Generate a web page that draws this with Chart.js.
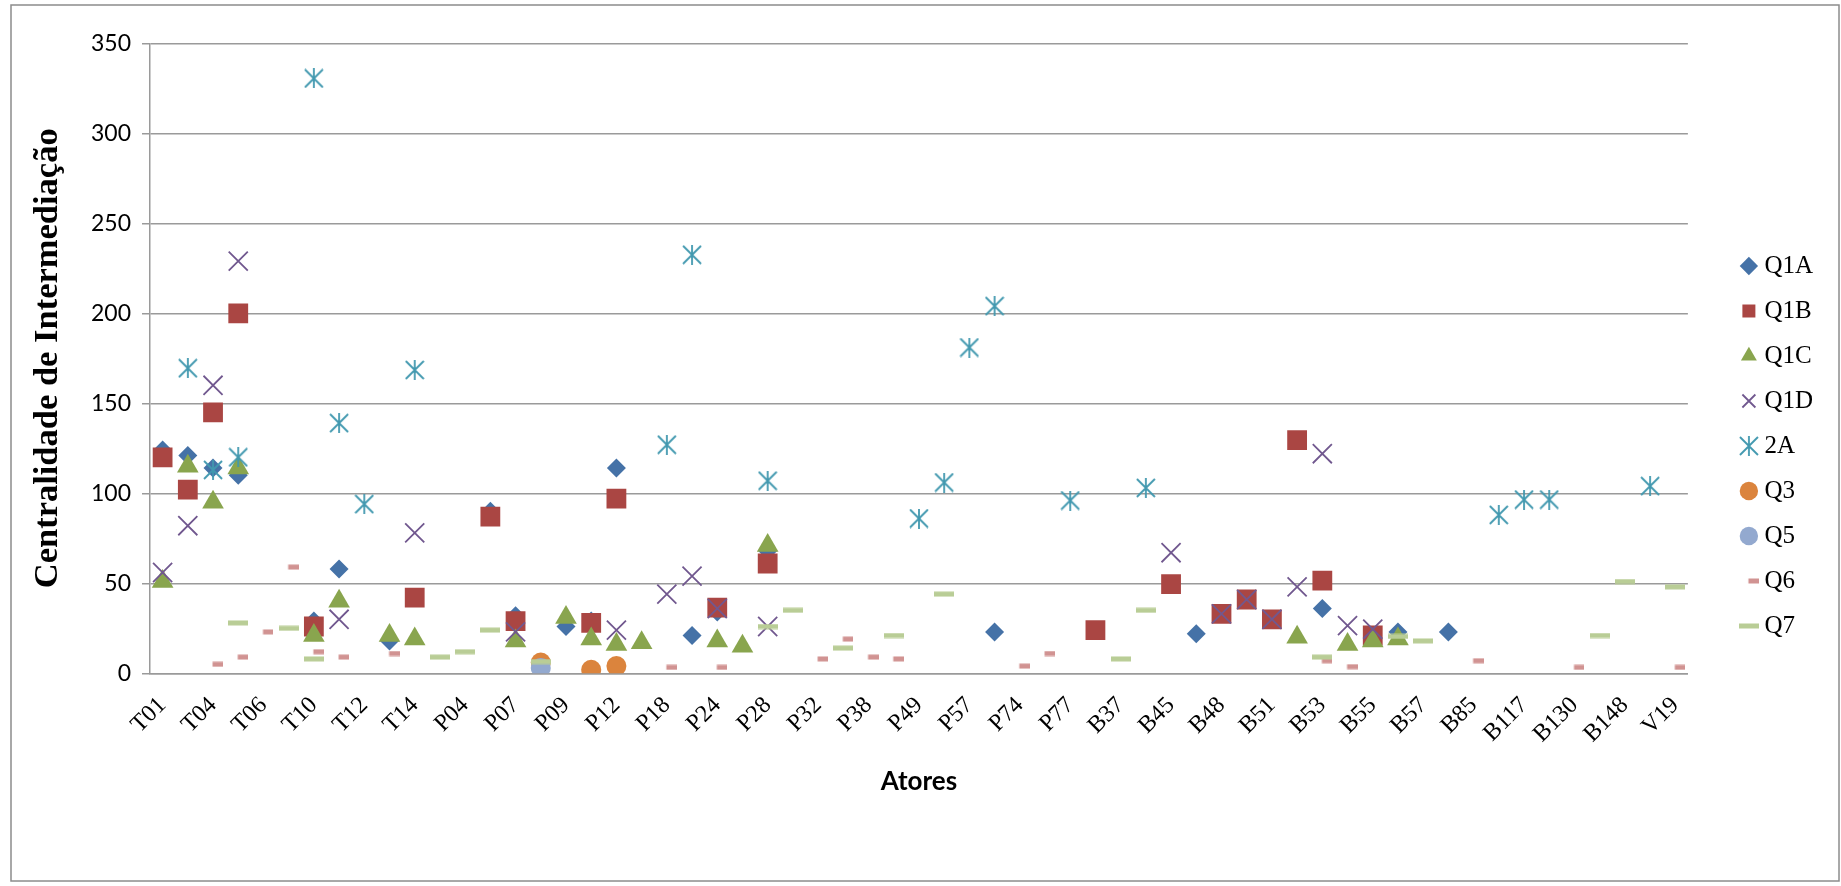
<!DOCTYPE html>
<html>
<head>
<meta charset="utf-8">
<title>Centralidade de Intermediação</title>
<script src="https://cdn.jsdelivr.net/npm/chart.js@4.4.1/dist/chart.umd.min.js"></script>
<style>
  html, body { margin: 0; padding: 0; background: #fff; }
  canvas { display: block; }
</style>
</head>
<body>
<canvas id="chart" width="1841" height="886"></canvas>
<script>
// actors on the x axis (only every other one is labelled in the original)
const actors = [
  "T01", "T03", "T04", "T05", "T06", "T08", "T10", "T11", "T12", "T13",
  "T14", "P02", "P04", "P06", "P07", "P08", "P09", "P11", "P12", "P15",
  "P18", "P21", "P24", "P26", "P28", "P30", "P32", "P35", "P38", "P42",
  "P49", "P53", "P57", "P65", "P74", "P75", "P77", "B30", "B37", "B40",
  "B45", "B47", "B48", "B50", "B51", "B52", "B53", "B54", "B55", "B56",
  "B57", "B70", "B85", "B100", "B117", "B120", "B130", "B140", "B148", "B150",
  "V19"
];

const q1a = [
  124, 121, 114, 110, null, null, 29, 58, null, 18,
  null, null, null, 90, 32, null, 26, 29, 114, null,
  null, 21, 34, null, 68, null, null, null, null, null,
  null, null, null, 23, null, null, null, null, null, null,
  null, 22, null, null, null, null, 36, null, null, 23,
  null, 23, null, null, null, null, null, null, null, null,
  null
];
const q1b = [
  120, 102, 145, 200, null, null, 26, null, null, null,
  42, null, null, 87, 29, null, null, 28, 97, null,
  null, null, 36.5, null, 61, null, null, null, null, null,
  null, null, null, null, null, null, null, 24, null, null,
  49.5, null, 33, 41, 30, 129.5, 51.5, null, 21, null,
  null, null, null, null, null, null, null, null, null, null,
  null
];
const q1c = [
  51, 115, 95, 114, null, null, 21, 40, null, 21,
  19, null, null, null, 18, null, 31, 19, 16, 17,
  null, null, 18, 15, 71, null, null, null, null, null,
  null, null, null, null, null, null, null, null, null, null,
  null, null, null, null, null, 20, null, 16, 18, 19,
  null, null, null, null, null, null, null, null, null, null,
  null
];
const q1d = [
  56, 82, 160, 229, null, null, null, 30, null, null,
  78, null, null, null, 23, null, null, null, 24, null,
  44, 54, 36, null, 26, null, null, null, null, null,
  null, null, null, null, null, null, null, null, null, null,
  67, null, 33, 41, 30, 48, 122, 26.5, 24.5, null,
  null, null, null, null, null, null, null, null, null, null,
  null
];
const q2a = [
  null, 169.5, 113, 120, null, null, 330.5, 139, 94, null,
  168.5, null, null, null, null, null, null, null, null, null,
  127, 232.5, null, null, 107, null, null, null, null, null,
  86, 106, 181, 204, null, null, 96, null, null, 103,
  null, null, null, null, null, null, null, null, null, null,
  null, null, null, 88, 96.5, 96.5, null, null, null, 104,
  null
];
const q3 = [
  null, null, null, null, null, null, null, null, null, null,
  null, null, null, null, null, 6, null, 2, 4, null,
  null, null, null, null, null, null, null, null, null, null,
  null, null, null, null, null, null, null, null, null, null,
  null, null, null, null, null, null, null, null, null, null,
  null, null, null, null, null, null, null, null, null, null,
  null
];
const q5 = [
  null, null, null, null, null, null, null, null, null, null,
  null, null, null, null, null, 3, null, null, null, null,
  null, null, null, null, null, null, null, null, null, null,
  null, null, null, null, null, null, null, null, null, null,
  null, null, null, null, null, null, null, null, null, null,
  null, null, null, null, null, null, null, null, null, null,
  null
];
const q6 = [
  null, null, 5, 9, 23, 59, 12, 9, null, 11,
  null, null, null, null, null, null, null, null, null, null,
  3.3, null, 3.3, null, null, null, 8, 19, 9, 8,
  null, null, null, null, 4, 11, null, null, null, null,
  null, null, null, null, null, null, 7, 3.7, null, null,
  null, null, 7, null, null, null, 3.3, null, null, null,
  3.3
];
const q7 = [
  null, null, null, 28, null, 25, 8, null, null, null,
  null, 9, 12, 24, null, 6.5, null, null, null, null,
  null, null, null, null, 26, 35, null, 14, null, 21,
  null, 44, null, null, null, null, null, null, 8, 35,
  null, null, null, null, null, null, 9, null, null, 20.5,
  18, null, null, null, null, null, null, 21, 51, null,
  48
];

const yTicks = [0, 50, 100, 150, 200, 250, 300, 350];

document.addEventListener("DOMContentLoaded", function () {
  const gridColor = "#9a9a9a";

  // small canvases for the Excel style markers chart.js has no shape for
  function makeMarker(w, h, draw) {
    const c = document.createElement("canvas");
    c.width = w;
    c.height = h;
    draw(c.getContext("2d"));
    return c;
  }
  const asterisk = makeMarker(20, 20, g => {
    g.strokeStyle = "#4198AF";
    g.lineWidth = 1.8;
    g.beginPath();
    g.moveTo(1, 1); g.lineTo(19, 19);
    g.moveTo(19, 1); g.lineTo(1, 19);
    g.moveTo(10, 0); g.lineTo(10, 20);
    g.stroke();
  });
  const shortDash = makeMarker(20, 6, g => {
    g.fillStyle = "#D19392";
    g.fillRect(9.5, 0.5, 10.5, 5);
  });
  const longDash = makeMarker(20, 6, g => {
    g.fillStyle = "#B9CD96";
    g.fillRect(0, 0.5, 20, 5);
  });

  const series = [
    { label: "Q1A", data: q1a, pointStyle: "rectRot", pointRadius: 9.5, color: "#4572A7" },
    { label: "Q1B", data: q1b, pointStyle: "rect", pointRadius: 14, color: "#AA4643" },
    { label: "Q1C", data: q1c, pointStyle: "triangle", pointRadius: 12.5, color: "#89A54E" },
    { label: "Q1D", data: q1d, pointStyle: "crossRot", pointRadius: 13.5, color: "#71588F", line: 1.8 },
    { label: "2A", data: q2a, pointStyle: asterisk, pointRadius: 10, color: "#4198AF" },
    { label: "Q3", data: q3, pointStyle: "circle", pointRadius: 10, color: "#DB843D" },
    { label: "Q5", data: q5, pointStyle: "circle", pointRadius: 10, color: "#93A9CF" },
    { label: "Q6", data: q6, pointStyle: shortDash, pointRadius: 6, color: "#D19392" },
    { label: "Q7", data: q7, pointStyle: longDash, pointRadius: 10, color: "#B9CD96" }
  ];

  const datasets = series.map((s, i) => ({
    label: s.label,
    data: s.data,
    showLine: false,
    xAxisID: "x",
    yAxisID: "y",
    order: series.length - i, // later series on top, as in Excel
    pointStyle: s.pointStyle,
    pointRadius: s.pointRadius,
    pointHoverRadius: s.pointRadius,
    pointBackgroundColor: s.color,
    pointBorderColor: s.color,
    pointBorderWidth: s.line || 0,
    backgroundColor: s.color,
    borderColor: s.color
  }));

  // grey frame round the whole chart
  const frame = {
    id: "frame",
    beforeDraw(chart) {
      const c = chart.ctx;
      c.save();
      c.fillStyle = "#fff";
      c.fillRect(0, 0, chart.width, chart.height);
      c.strokeStyle = "#8c8c8c";
      c.lineWidth = 1.5;
      c.strokeRect(11, 5, 1828, 876);
      c.restore();
    }
  };

  new Chart(document.getElementById("chart"), {
    type: "line",
    data: { labels: actors, datasets },
    options: {
      responsive: false,
      animation: false,
      layout: { padding: { top: 6, right: 18, bottom: 0, left: 0 } },
      plugins: {
        legend: {
          position: "right",
          labels: {
            usePointStyle: true,
            boxWidth: 6,
            boxHeight: 13,
            padding: 20,
            color: "#000",
            font: { family: "Liberation Serif", size: 25 },
            sort: (a, b) => a.datasetIndex - b.datasetIndex
          }
        },
        tooltip: { enabled: false }
      },
      scales: {
        x: {
          type: "category",
          offset: true,
          grid: { display: false, drawTicks: false },
          border: { display: true, color: gridColor, width: 1.5 },
          ticks: {
            autoSkip: false,
            minRotation: 45,
            maxRotation: 45,
            padding: 18,
            color: "#000",
            font: { family: "Liberation Serif", size: 24 },
            callback: (val, i) => (i % 2 === 0 ? actors[i] : "")
          },
          title: {
            display: true,
            text: "Atores",
            color: "#000",
            font: { family: "Lato", size: 26, weight: "bold" },
            padding: { top: 0, bottom: 89 }
          },
          afterFit: s => { s.height = 212.7; }
        },
        y: {
          min: 0,
          max: 350,
          afterBuildTicks: s => { s.ticks = yTicks.map(v => ({ value: v })); },
          grid: { color: gridColor, lineWidth: 1.5, tickLength: 8, tickColor: gridColor },
          border: { display: true, color: gridColor, width: 1.5 },
          ticks: {
            padding: 11,
            color: "#000",
            font: { family: "Lato", size: 23 }
          },
          title: {
            display: true,
            text: "Centralidade de Intermediação",
            color: "#000",
            font: { family: "Liberation Serif", size: 34.5, weight: "bold" },
            padding: { top: 27, bottom: 0 }
          },
          afterFit: s => { s.width = 150; }
        },
        // empty axes that only keep space above and right of the plot
        padTop: {
          type: "linear",
          axis: "x",
          position: "top",
          ticks: { display: false },
          grid: { display: false },
          border: { display: false },
          afterFit: s => { s.height = 37.3; }
        },
        padRight: {
          type: "linear",
          axis: "y",
          position: "right",
          ticks: { display: false },
          grid: { display: false },
          border: { display: false },
          afterFit: s => { s.width = 38; }
        }
      }
    },
    plugins: [frame]
  });
});
</script>
</body>
</html>
